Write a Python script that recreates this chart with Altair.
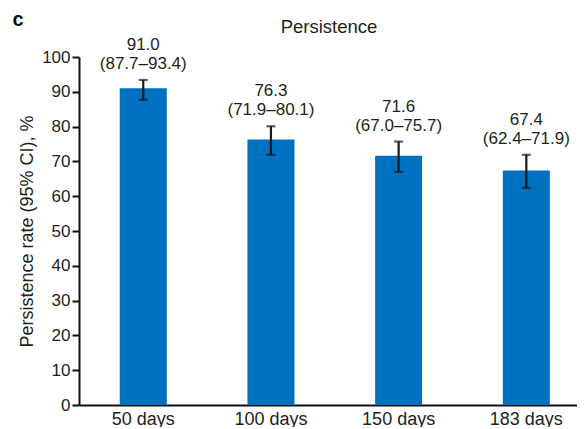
import altair as alt
import pandas as pd

categories = ["50 days", "100 days", "150 days", "183 days"]
rates = [91.0, 76.3, 71.6, 67.4]
lower = [87.7, 71.9, 67.0, 62.4]
upper = [93.4, 80.1, 75.7, 71.9]
chart_title = ["Persistence"]
panel_label = ["c"]

df = pd.DataFrame({
    "cat": categories,
    "rate": rates,
    "lo": lower,
    "hi": upper,
})
df["lab1"] = [f"{v:.1f}" for v in rates]
df["lab2"] = [f"({l:.1f}\u2013{h:.1f})" for l, h in zip(lower, upper)]

FONT = "Liberation Sans"
TXT = "#231f20"

xscale = alt.Scale(paddingInner=0.632, paddingOuter=0.266, align=0.6)
yscale = alt.Scale(domain=[0, 100], nice=False)

xaxis = alt.Axis(labelAngle=0, ticks=False, labelPadding=5, labelFontSize=18,
                 labelFont=FONT, labelColor=TXT, domainColor="#111111",
                 domainWidth=2)
yaxis = alt.Axis(values=list(range(0, 101, 10)), tickSize=7, tickWidth=2,
                 tickColor="#111111", domainColor="#111111", domainWidth=2,
                 labelFontSize=17, labelFont=FONT, labelColor=TXT, labelPadding=2,
                 labelOverlap=False,
                 titleFontSize=18, titleFont=FONT, titleColor=TXT,
                 titleFontWeight="normal", titlePadding=5, grid=False)
YT = "Persistence rate (95% CI), %"

x = alt.X("cat:N", sort=categories, title=None, scale=xscale, axis=xaxis)


def yq(field):
    return alt.Y(field, title=YT, scale=yscale, axis=yaxis)


base = alt.Chart(df)

bars = base.mark_bar(color="#0070c0").encode(x=x, y=yq("rate:Q"))
err = base.mark_rule(color="#1a1a1a", strokeWidth=2.2).encode(
    x=x, y=yq("lo:Q"), y2="hi:Q")
caps_hi = base.mark_tick(color="#1a1a1a", size=9, thickness=2.2).encode(
    x=x, y=yq("hi:Q"))
caps_lo = base.mark_tick(color="#1a1a1a", size=9, thickness=2.2).encode(
    x=x, y=yq("lo:Q"))
t2 = base.mark_text(font=FONT, fontSize=17, fontWeight="normal", color=TXT,
                    baseline="middle", dy=-16).encode(
    x=x, y=yq("hi:Q"), text="lab2:N")
t1 = base.mark_text(font=FONT, fontSize=17, fontWeight="normal", color=TXT,
                    baseline="middle", dy=-35).encode(
    x=x, y=yq("hi:Q"), text="lab1:N")
panel = alt.Chart(pd.DataFrame({"t": panel_label})).mark_text(
    font=FONT, fontSize=20, fontWeight="bold", color="#111111",
    align="center", baseline="middle").encode(
    x=alt.value(-61), y=alt.value(-37), text="t:N")
title = alt.Chart(pd.DataFrame({"t": chart_title})).mark_text(
    font=FONT, fontSize=18.5, fontWeight="normal", color=TXT,
    align="center", baseline="middle").encode(
    x=alt.value(250), y=alt.value(-30), text="t:N")

chart = alt.layer(bars, err, caps_hi, caps_lo, t2, t1, panel, title).properties(
    width=498, height=348,
    autosize=alt.AutoSizeParams(type="none"),
    padding={"left": 71, "top": 49, "right": 0, "bottom": 22},
).configure_view(stroke=None)

chart.save("out.html", embed_options={"renderer": "svg", "actions": False})
